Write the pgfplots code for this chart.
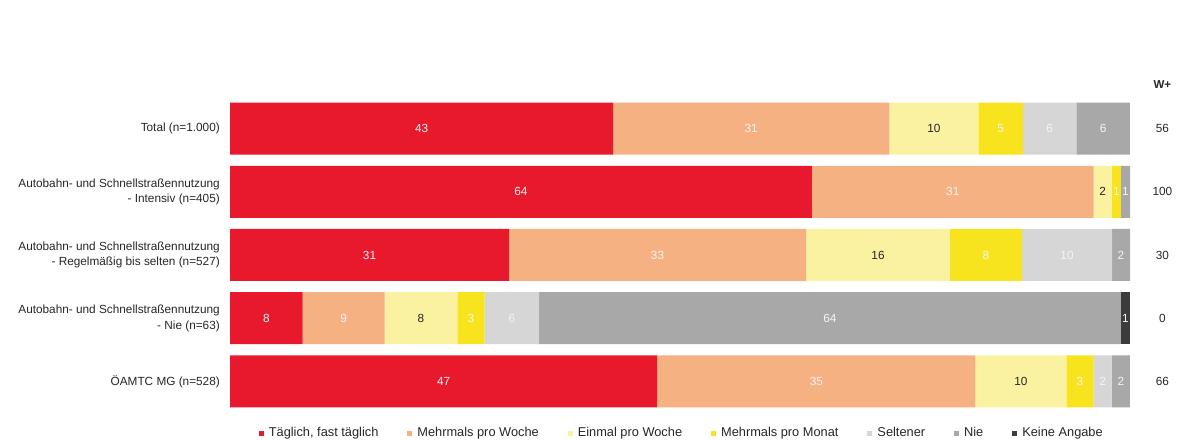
\documentclass[border=0pt]{standalone}
\usepackage{pgfplots}
\usepackage{pgfplotstable}
\pgfplotsset{compat=1.18}
\usepackage{fontspec}
\setmainfont{Liberation Sans}

\definecolor{cRed}{RGB}{232,25,44}
\definecolor{cOrange}{RGB}{245,177,130}
\definecolor{cLYellow}{RGB}{250,242,160}
\definecolor{cYellow}{RGB}{247,228,30}
\definecolor{cLGray}{RGB}{214,214,214}
\definecolor{cGray}{RGB}{168,168,168}
\definecolor{cDark}{RGB}{60,60,60}

% y = row, v = share of the bar (normalised), lab = printed value
\pgfplotstableread{
y v lab
0 42.57 43
1 64.65 64
2 31.00 31
3 8.08 8
4 47.47 47
}\tA
\pgfplotstableread{
y v lab
0 30.69 31
1 31.31 31
2 33.00 33
3 9.09 9
4 35.35 35
}\tB
\pgfplotstableread{
y v lab
0 9.90 10
1 2.02 2
2 16.00 16
3 8.08 8
4 10.10 10
}\tC
\pgfplotstableread{
y v lab
0 4.95 5
1 1.01 1
2 8.00 8
3 3.03 3
4 3.03 3
}\tD
\pgfplotstableread{
y v lab
0 5.94 6
1 0 0
2 10.00 10
3 6.06 6
4 2.02 2
}\tE
\pgfplotstableread{
y v lab
0 5.94 6
1 1.01 1
2 2.00 2
3 64.65 64
4 2.02 2
}\tF
\pgfplotstableread{
y v lab
0 0 0
1 0 0
2 0 0
3 1.01 1
4 0 0
}\tG

\pgfplotsset{
  labW/.style={nodes near coords={\pgfmathfloatifflags{\pgfplotspointmeta}{0}{}{\textcolor{white!96!black}{\pgfmathprintnumber[assume math mode=true]{\pgfplotspointmeta}}}}},
  labB/.style={nodes near coords={\pgfmathfloatifflags{\pgfplotspointmeta}{0}{}{\textcolor{black!85}{\pgfmathprintnumber[assume math mode=true]{\pgfplotspointmeta}}}}},
}

\begin{document}
\begin{tikzpicture}[x=1bp,y=1bp]
\useasboundingbox (0,0) rectangle (1179,441);
\begin{axis}[
  at={(230bp,27.9bp)}, anchor=south west,
  scale only axis, width=900bp, height=316.2bp,
  xmin=0, xmax=100, ymin=-0.5, ymax=4.5, y dir=reverse,
  xbar stacked, bar width=52bp,
  clip=false,
  axis line style={draw=none},
  tick style={draw=none},
  major tick length=0pt,
  xtick=\empty,
  ytick={0,1,2,3,4},
  yticklabels={
    {Total (n=1.000)},
    {Autobahn- und Schnellstraßennutzung\\- Intensiv (n=405)},
    {Autobahn- und Schnellstraßennutzung\\- Regelmäßig bis selten (n=527)},
    {Autobahn- und Schnellstraßennutzung\\- Nie (n=63)},
    {ÖAMTC MG (n=528)}},
  yticklabel style={align=right, inner sep=0pt, xshift=-10bp,
    font=\fontsize{11.8bp}{15.5bp}\selectfont, text=black!85},
  point meta=explicit,
  nodes near coords,
  every node near coord/.style={anchor=center,
      font=\fontsize{11.8bp}{14bp}\selectfont, inner sep=0pt},
  legend columns=-1,
  legend style={at={(0.502,-0.063)}, anchor=center, draw=none, fill=none,
    font=\fontsize{12.8bp}{14bp}\selectfont, text=black!85,
    inner sep=0pt,
    /tikz/every odd column/.append style={column sep=3bp},
    /tikz/every even column/.append style={column sep=27bp}},
  legend image code/.code={\path[#1, draw=none] (0bp,-2.5bp) rectangle (5bp,2.5bp);},
]
\addplot[draw=none, fill=cRed, labW] table[x=v, y=y, meta=lab] {\tA};
\addlegendentry{Täglich, fast täglich}
\addplot[draw=none, fill=cOrange, labW] table[x=v, y=y, meta=lab] {\tB};
\addlegendentry{Mehrmals pro Woche}
\addplot[draw=none, fill=cLYellow, labB] table[x=v, y=y, meta=lab] {\tC};
\addlegendentry{Einmal pro Woche}
\addplot[draw=none, fill=cYellow, labW] table[x=v, y=y, meta=lab] {\tD};
\addlegendentry{Mehrmals pro Monat}
\addplot[draw=none, fill=cLGray, labW] table[x=v, y=y, meta=lab] {\tE};
\addlegendentry{Seltener}
\addplot[draw=none, fill=cGray, labW] table[x=v, y=y, meta=lab] {\tF};
\addlegendentry{Nie}
\addplot[draw=none, fill=cDark, labW] table[x=v, y=y, meta=lab] {\tG};
\addlegendentry{Keine Angabe}

\node[font=\bfseries\fontsize{11.5bp}{14bp}\selectfont, text=black!85] at (axis cs:103.6,-0.70) {W+};
\node[font=\fontsize{11.8bp}{14bp}\selectfont, text=black!85] at (axis cs:103.6,0) {56};
\node[font=\fontsize{11.8bp}{14bp}\selectfont, text=black!85] at (axis cs:103.6,1) {100};
\node[font=\fontsize{11.8bp}{14bp}\selectfont, text=black!85] at (axis cs:103.6,2) {30};
\node[font=\fontsize{11.8bp}{14bp}\selectfont, text=black!85] at (axis cs:103.6,3) {0};
\node[font=\fontsize{11.8bp}{14bp}\selectfont, text=black!85] at (axis cs:103.6,4) {66};
\end{axis}
\end{tikzpicture}
\end{document}
